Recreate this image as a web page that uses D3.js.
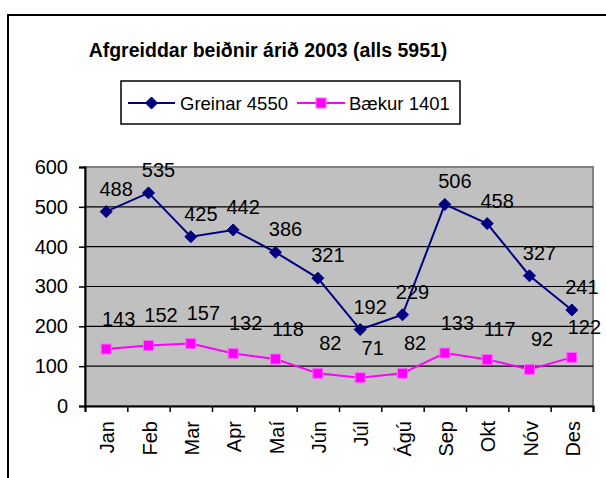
<!DOCTYPE html>
<html>
<head>
<meta charset="utf-8">
<script src="https://cdn.jsdelivr.net/npm/d3@7"></script>
<style>
  body { margin: 0; background: #fff; }
  svg { display: block; font-family: "Liberation Sans", Arial, sans-serif; }
</style>
</head>
<body>
<div id="chart"></div>
<script>
// Data
const months = ["Jan", "Feb", "Mar", "Apr", "Maí", "Jún", "Júl", "Ágú", "Sep", "Okt", "Nóv", "Des"];
const greinar = [488, 535, 425, 442, 386, 321, 192, 229, 506, 458, 327, 241];
const baekur = [143, 152, 157, 132, 118, 82, 71, 82, 133, 117, 92, 122];
const yTicks = [0, 100, 200, 300, 400, 500, 600];
const titleText = "Afgreiddar beiðnir árið 2003 (alls 5951)";
const seriesNames = ["Greinar 4550", "Bækur 1401"];

const W = 606, H = 478;
const plot = { left: 85, top: 167, right: 593, bottom: 406 };

const svg = d3.select("#chart").append("svg")
  .attr("width", W)
  .attr("height", H);

// outer chart frame (runs off the picture on the right and bottom)
svg.append("rect")
  .attr("x", 8).attr("y", 15)
  .attr("width", 700).attr("height", 600)
  .attr("fill", "#fff")
  .attr("stroke", "#000")
  .attr("stroke-width", 2);

// Title
svg.append("text")
  .attr("x", 268)
  .attr("y", 57)
  .attr("text-anchor", "middle")
  .attr("font-size", 19.5)
  .attr("font-weight", "bold")
  .text(titleText);

// Scales
const x = d3.scaleBand()
  .domain(months)
  .range([plot.left, plot.right]);

const xEdges = d3.scaleLinear()
  .domain([0, months.length])
  .range([plot.left, plot.right]);

const y = d3.scaleLinear()
  .domain([0, 600])
  .range([plot.bottom, plot.top]);

// Plot area
svg.append("rect")
  .attr("x", plot.left)
  .attr("y", plot.top)
  .attr("width", plot.right - plot.left)
  .attr("height", plot.bottom - plot.top)
  .attr("fill", "#c0c0c0")
  .attr("stroke", "#808080")
  .attr("stroke-width", 2);

// Gridlines
svg.append("g")
  .selectAll("line")
  .data(yTicks.filter(d => d > 0 && d < 600))
  .enter()
  .append("line")
  .attr("x1", plot.left)
  .attr("x2", plot.right)
  .attr("y1", d => y(d))
  .attr("y2", d => y(d))
  .attr("stroke", "#000")
  .attr("stroke-width", 1.2);

// Y axis
const yAxis = svg.append("g")
  .attr("transform", `translate(${plot.left},0)`)
  .call(d3.axisLeft(y).tickValues(yTicks).tickSize(6).tickPadding(11));
yAxis.select(".domain").attr("stroke", "#000").attr("stroke-width", 2);
yAxis.selectAll(".tick line").attr("stroke-width", 1.5);
yAxis.selectAll(".tick text")
  .attr("font-size", 20)
  .attr("font-family", "Liberation Sans, Arial, sans-serif")
  .attr("fill", "#000");

// X axis: tick marks on the category edges
const xTicks = svg.append("g")
  .attr("transform", `translate(0,${plot.bottom})`)
  .call(d3.axisBottom(xEdges).tickValues(d3.range(0, months.length + 1)).tickSize(6).tickFormat(""));
xTicks.select(".domain").attr("stroke", "#000").attr("stroke-width", 2);
xTicks.selectAll(".tick line").attr("stroke-width", 1.5);

// X labels, rotated
svg.append("g")
  .selectAll("text")
  .data(months)
  .enter()
  .append("text")
  .attr("transform", d => `translate(${x(d) + x.bandwidth() / 2 + 8},${plot.bottom + 15}) rotate(-90)`)
  .attr("text-anchor", "end")
  .attr("font-size", 20)
  .text(d => d);

// Series
const series = [
  { name: seriesNames[0], values: greinar, color: "#000080", marker: "diamond", dx: 10, dy: -16 },
  { name: seriesNames[1], values: baekur, color: "#ff00ff", marker: "square", dx: 12.5, dy: -23 }
];

const diamond = d3.symbol().type(d3.symbolDiamond2 || d3.symbolSquare).size(60);

function drawMarker(g, type, color, cx, cy) {
  if (type === "diamond") {
    g.append("path")
      .attr("d", "M0,-6L6,0L0,6L-6,0Z")
      .attr("transform", `translate(${cx},${cy})`)
      .attr("fill", color)
      .attr("stroke", color)
      .attr("stroke-width", 1);
  } else {
    g.append("rect")
      .attr("x", cx - 5).attr("y", cy - 5)
      .attr("width", 10).attr("height", 10)
      .attr("fill", color)
      .attr("stroke", "#ff66ff")
      .attr("stroke-width", 1);
  }
}

series.forEach(s => {
  const line = d3.line()
    .x((d, i) => x(months[i]) + x.bandwidth() / 2)
    .y(d => y(d));

  svg.append("path")
    .datum(s.values)
    .attr("fill", "none")
    .attr("stroke", s.color)
    .attr("stroke-width", 2)
    .attr("d", line);

  const g = svg.append("g");
  s.values.forEach((v, i) => {
    drawMarker(g, s.marker, s.color, x(months[i]) + x.bandwidth() / 2, y(v));
  });
});

// Data labels (drawn after both lines so they sit on top)
series.forEach(s => {
  svg.append("g")
    .selectAll("text")
    .data(s.values)
    .enter()
    .append("text")
    .attr("x", (d, i) => x(months[i]) + x.bandwidth() / 2 + s.dx)
    .attr("y", d => y(d) + s.dy)
    .attr("text-anchor", "middle")
    .attr("font-size", 20)
    .attr("fill", "#000")
    .text(d => d);
});

// Legend
const legend = svg.append("g");
legend.append("rect")
  .attr("x", 121).attr("y", 81)
  .attr("width", 339).attr("height", 43)
  .attr("fill", "#fff")
  .attr("stroke", "#000")
  .attr("stroke-width", 1.5);

const legendItems = [
  { x1: 128, x2: 175, tx: 180 },
  { x1: 297, x2: 345, tx: 349 }
];

series.forEach((s, i) => {
  const it = legendItems[i];
  legend.append("line")
    .attr("x1", it.x1).attr("x2", it.x2)
    .attr("y1", 103).attr("y2", 103)
    .attr("stroke", s.color)
    .attr("stroke-width", 2);
  drawMarker(legend, s.marker, s.color, (it.x1 + it.x2) / 2, 103);
  legend.append("text")
    .attr("x", it.tx)
    .attr("y", 110)
    .attr("font-size", 18.5)
    .text(s.name);
});
</script>
</body>
</html>
